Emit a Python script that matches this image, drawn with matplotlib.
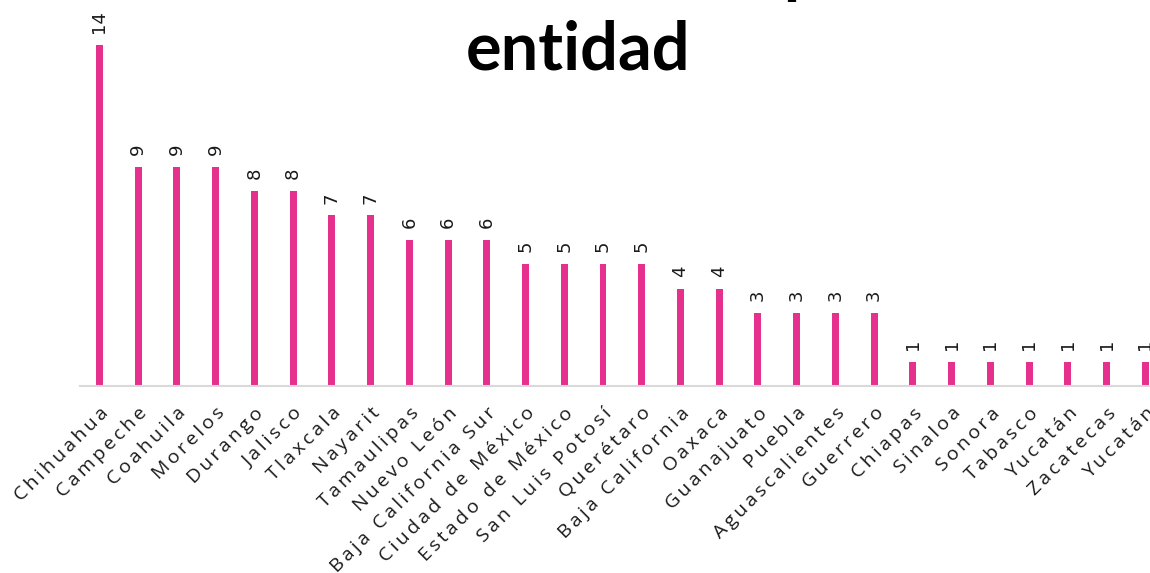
import matplotlib
matplotlib.use("Agg")
import matplotlib.pyplot as plt
import numpy as np

estados = ["Chihuahua", "Campeche", "Coahuila", "Morelos", "Durango", "Jalisco",
           "Tlaxcala", "Nayarit", "Tamaulipas", "Nuevo León", "Baja California Sur",
           "Ciudad de México", "Estado de México", "San Luis Potosí", "Querétaro",
           "Baja California", "Oaxaca", "Guanajuato", "Puebla", "Aguascalientes",
           "Guerrero", "Chiapas", "Sinaloa", "Sonora", "Tabasco", "Yucatán",
           "Zacatecas", "Yucatán"]
casos = [14, 9, 9, 9, 8, 8, 7, 7, 6, 6, 6, 5, 5, 5, 5, 4, 4, 3, 3, 3, 3,
         1, 1, 1, 1, 1, 1, 1]

titulo_linea1 = "Número de casos por"
titulo_linea2 = "entidad"

rosa = "#E6308E"
gris = "#D9D9D9"
texto = "#1a1a1a"


def espaciado(s):
    # widen letter spacing like the original labels
    return "\u2009".join(s)


W, H = 1150, 573
fig = plt.figure(figsize=(W / 100, H / 100), dpi=100)

# axes placed in pixels: baseline at y=386, first bar at x=98
left = 80 / W
bottom = (H - 386) / H
ymax = 16
px_per_unit = 24.36
ax = fig.add_axes([left, bottom, 28 * 38.74 / W, ymax * px_per_unit / H])

x = np.arange(len(estados))
ax.bar(x, casos, width=0.18, color=rosa, zorder=2)
ax.set_xlim(-0.5, len(estados) - 0.5)
ax.set_ylim(0, ymax)

for xi, v in zip(x, casos):
    ax.annotate(str(v), (xi, v), xytext=(0, 8.5), textcoords="offset points",
                rotation=90, ha="center", va="bottom", fontsize=13,
                color=texto, family="DejaVu Sans")

for s in ["top", "right", "left"]:
    ax.spines[s].set_visible(False)
ax.spines["bottom"].set_color(gris)
ax.spines["bottom"].set_linewidth(1.5)
ax.set_yticks([])
ax.set_xticks(x)
ax.set_xticklabels([espaciado(e) for e in estados], rotation=45, ha="right",
                   rotation_mode="anchor", fontsize=14,
                   family=["Open Sans", "DejaVu Sans"], color=texto)
ax.tick_params(axis="x", length=0, pad=13)

fig.text(578 / W, 1 - 70 / H, titulo_linea2, ha="center", va="baseline",
         fontsize=48, fontweight="bold", family="Lato", color="black")
fig.text(570 / W, 1 + 10 / H, titulo_linea1, ha="center", va="baseline",
         fontsize=48, fontweight="bold", family="Lato", color="black")

fig.savefig("out.png", dpi=100)
